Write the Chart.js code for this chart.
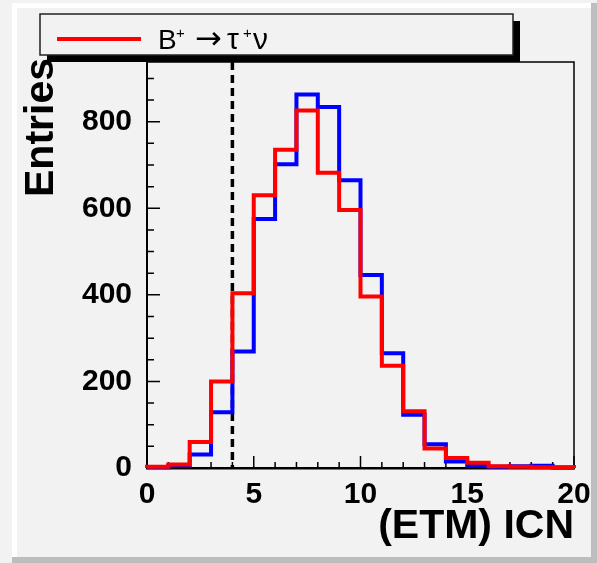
<!DOCTYPE html>
<html>
<head>
<meta charset="utf-8">
<script src="https://cdn.jsdelivr.net/npm/chart.js@4"></script>
<style>
  html, body { margin: 0; padding: 0; background: #f2f2f2; }
  #wrap { width: 597px; height: 563px; }
</style>
</head>
<body>
<div id="wrap"><canvas id="myChart" width="597" height="563"></canvas></div>
<script>
// bin edges 0..20, one entry per bin
const binEdges = [0, 1, 2, 3, 4, 5, 6, 7, 8, 9, 10, 11, 12, 13, 14, 15, 16, 17, 18, 19, 20];
const blueCounts = [2, 5, 31, 129, 269, 575, 702, 863, 834, 665, 446, 265, 123, 55, 15, 5, 3, 4, 5, 1];
const redCounts = [3, 8, 60, 200, 404, 630, 735, 826, 682, 596, 396, 236, 131, 45, 23, 12, 4, 3, 2, 2];
const xTicks = [0, 5, 10, 15, 20];
const yTicks = [0, 200, 400, 600, 800];
const cutValue = 4;
const legendLabel = ['B', '+', '\u2192', '\u03c4', '+', '\u03bd'];

// turn bin counts into step points (left edge of each bin + closing edge)
const toSteps = counts => {
	const pts = [{x: binEdges[0], y: 0}];
	counts.forEach((c, i) => pts.push({x: binEdges[i], y: c}));
	pts.push({x: binEdges[binEdges.length - 1], y: counts[counts.length - 1]});
	pts.push({x: binEdges[binEdges.length - 1], y: 0});
	return pts;
};

const rootLook = {
	id: 'rootLook',
	beforeDraw(chart) {
		const c = chart.ctx;
		c.save();
		c.fillStyle = '#f2f2f2';
		c.fillRect(0, 0, 597, 563);
		// bevel of the canvas
		c.fillStyle = '#ffffff';
		c.fillRect(12, 3, 580, 5);
		c.fillRect(12, 3, 5, 554);
		c.fillStyle = '#bdbdbd';
		c.fillRect(12, 557, 585, 6);
		c.fillRect(591, 3, 6, 560);
		c.restore();
	},
	beforeDatasetsDraw(chart) {
		const c = chart.ctx;
		const a = chart.chartArea;
		const xs = chart.scales.x, ys = chart.scales.y;
		c.save();
		c.strokeStyle = '#000';
		// frame top / right
		c.lineWidth = 1.5;
		c.beginPath();
		c.moveTo(a.left, a.top);
		c.lineTo(a.right, a.top);
		c.lineTo(a.right, a.bottom);
		c.stroke();
		// tick marks drawn inward
		c.lineWidth = 1.5;
		c.beginPath();
		for (let v = 0; v <= 20; v += 1) {
			const px = xs.getPixelForValue(v);
			const len = v % 5 === 0 ? 12 : 6;
			c.moveTo(px, a.bottom);
			c.lineTo(px, a.bottom - len);
		}
		for (let v = 0; v <= ys.max; v += 50) {
			const py = ys.getPixelForValue(v);
			const len = v % 200 === 0 ? 13 : 7;
			c.moveTo(a.left, py);
			c.lineTo(a.left + len, py);
		}
		c.stroke();
		// cut line
		const cx = xs.getPixelForValue(cutValue);
		c.lineWidth = 3.5;
		c.setLineDash([8, 5]);
		c.beginPath();
		c.moveTo(cx, a.top);
		c.lineTo(cx, a.bottom);
		c.stroke();
		c.restore();
	},
	afterDraw(chart) {
		const c = chart.ctx;
		c.save();
		// legend box with shadow
		c.fillStyle = '#000';
		c.fillRect(47, 21, 473, 41);
		c.fillStyle = '#f2f2f2';
		c.fillRect(40, 14, 473, 41);
		c.strokeStyle = '#222';
		c.lineWidth = 1.5;
		c.strokeRect(40, 14, 473, 41);
		c.strokeStyle = chart.data.datasets[0].borderColor;
		c.lineWidth = 4;
		c.beginPath();
		c.moveTo(57, 39);
		c.lineTo(141, 39);
		c.stroke();
		c.fillStyle = '#000';
		c.textBaseline = 'alphabetic';
		c.font = '28px "Liberation Sans", Arial, sans-serif';
		c.fillText(legendLabel[0], 158, 49);
		c.font = '30px "Liberation Sans", Arial, sans-serif';
		c.fillText(legendLabel[3], 227, 49);
		c.fillText(legendLabel[5], 253, 49);
		c.font = '32px "DejaVu Sans", sans-serif';
		c.fillText(legendLabel[2], 195, 49);
		c.font = '15px "Liberation Sans", Arial, sans-serif';
		c.fillText(legendLabel[1], 176, 38);
		c.fillText(legendLabel[4], 243, 38);

		// axis titles
		c.font = 'bold 41px "Liberation Sans", Arial, sans-serif';
		c.textAlign = 'right';
		c.fillText('(ETM) ICN', 574, 538);
		c.translate(53, 58);
		c.rotate(-Math.PI / 2);
		c.fillText('Entries', 0, 0);
		c.restore();
	}
};

const ctx = document.getElementById('myChart');

new Chart(ctx, {
	type: 'line',
	data: {
		datasets: [
			{
				label: 'B+ \u2192 \u03c4+\u03bd',
				data: toSteps(redCounts),
				borderColor: '#ff0000',
				borderWidth: 4,
				stepped: 'before',
				pointRadius: 0,
				fill: false,
				clip: false,
			},
			{
				label: 'other',
				data: toSteps(blueCounts),
				borderColor: '#0000ff',
				borderWidth: 4,
				stepped: 'before',
				pointRadius: 0,
				fill: false,
				clip: false,
			}
		]
	},
	options: {
		responsive: false,
		animation: false,
		events: [],
		layout: {
			padding: {left: 0, top: 62, right: 23, bottom: 0}
		},
		plugins: {
			legend: {display: false},
			tooltip: {enabled: false}
		},
		scales: {
			x: {
				type: 'linear',
				min: 0,
				max: 20,
				afterFit: s => { s.height = 95; },
				afterBuildTicks: s => { s.ticks = xTicks.map(v => ({value: v})); },
				grid: {display: false},
				border: {display: true, color: '#000', width: 2.5},
				ticks: {
					color: '#000',
					padding: 1,
					maxRotation: 0,
					font: {family: '"Liberation Sans", Arial, sans-serif', size: 30, weight: 'bold'}
				}
			},
			y: {
				type: 'linear',
				min: 0,
				max: 938,
				afterFit: s => { s.width = 147; },
				afterBuildTicks: s => { s.ticks = yTicks.map(v => ({value: v})); },
				grid: {display: false},
				border: {display: true, color: '#000', width: 2},
				ticks: {
					color: '#000',
					padding: 7,
					font: {family: '"Liberation Sans", Arial, sans-serif', size: 30, weight: 'bold'}
				}
			}
		}
	},
	plugins: [rootLook]
});
</script>
</body>
</html>
